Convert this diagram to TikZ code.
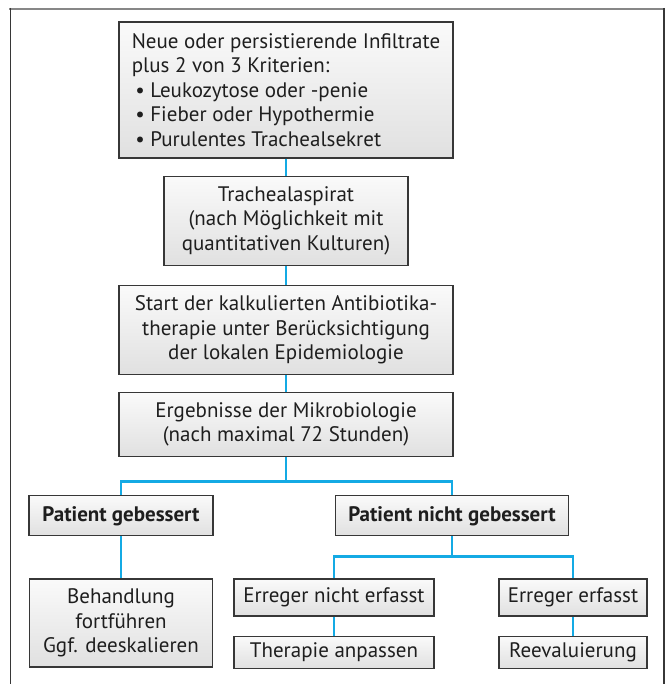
\documentclass[tikz,border=0pt]{standalone}
\usepackage{fontspec}
\setmainfont{PT Sans}
\usepackage{tikz}
\usetikzlibrary{positioning}

\definecolor{linkblue}{RGB}{20,170,228}
\definecolor{boxedge}{RGB}{55,55,55}
\definecolor{rulegray}{RGB}{135,135,135}
\definecolor{textgray}{RGB}{30,30,30}

\begin{document}
\begin{tikzpicture}[
    x=1pt, y=1pt,
    font=\fontsize{21}{24.5}\selectfont,
    box/.style={
        rectangle, draw=boxedge, line width=1.2pt, text=textgray,
        top color=gray!4, bottom color=gray!24,
        inner sep=2pt, align=center
    },
    line/.style={
        draw=linkblue, line width=2.6pt
    }
]
\useasboundingbox (0,0) rectangle (670,-684);

% frame
\draw[rulegray, line width=2.6pt] (9,-9) -- (665,-9);
\draw[boxedge, line width=1.3pt] (10.5,-8) -- (10.5,-684);
\draw[boxedge, line width=1.3pt] (664,-8) -- (664,-684);

% Top level
\node[box, align=left, minimum width=334pt, minimum height=136pt] (kriterien) at (286,-90)
    {Neue oder persistierende Infiltrate\\
     plus 2 von 3 Kriterien:\\
     \,\textbullet\ Leukozytose oder -penie\\
     \,\textbullet\ Fieber oder Hypothermie\\
     \,\textbullet\ Purulentes Trachealsekret};

% Diagnostics and therapy start
\node[box, below=17pt of kriterien, minimum width=244pt, minimum height=89pt] (aspirat)
    {Trachealaspirat\\ (nach Möglichkeit mit\\ quantitativen Kulturen)};
\node[box, below=19pt of aspirat, minimum width=334pt, minimum height=89pt] (therapie)
    {Start der kalkulierten Antibiotika-\\ therapie unter Berücksichtigung\\ der lokalen Epidemiologie};
\node[box, below=17pt of therapie, minimum width=334pt, minimum height=64pt] (mikro)
    {Ergebnisse der Mikrobiologie\\ (nach maximal 72 Stunden)};

% Second split
\node[box, below=38pt of mikro, xshift=-165pt, minimum width=184pt, minimum height=40pt] (besser)
    {\textbf{Patient gebessert}};
\node[box, below=38pt of mikro, xshift=166pt, minimum width=233pt, minimum height=40pt] (nichtbesser)
    {\textbf{Patient nicht gebessert}};

% Bottom level
\node[box, below=42pt of besser, minimum width=183pt, minimum height=88pt] (fortfuehren)
    {Behandlung\\ fortführen\\ Ggf. deeskalieren};
\node[box, below=42pt of nichtbesser, xshift=-118pt, minimum width=200pt, minimum height=37pt] (nichterfasst)
    {Erreger nicht erfasst};
\node[box, below=42pt of nichtbesser, xshift=121pt, minimum width=148pt, minimum height=37pt] (erfasst)
    {Erreger erfasst};
\node[box, below=19pt of nichterfasst, minimum width=200pt, minimum height=32pt] (anpassen)
    {Therapie anpassen};
\node[box, below=19pt of erfasst, minimum width=148pt, minimum height=32pt] (reeval)
    {Reevaluierung};

% Draw connections
\draw[line] (kriterien) -- (aspirat);
\draw[line] (aspirat) -- (therapie);
\draw[line] (therapie) -- (mikro);
\draw[line] (mikro.south) -- ++(0,-24) -| (besser.north);
\draw[line] (mikro.south) -- ++(0,-24) -| (nichtbesser.north);
\draw[line] (besser) -- (fortfuehren);
\draw[line] (nichtbesser.south) -- ++(0,-20) -| (nichterfasst.north);
\draw[line] (nichtbesser.south) -- ++(0,-20) -| (erfasst.north);
\draw[line] (nichterfasst) -- (anpassen);
\draw[line] (erfasst) -- (reeval);

\end{tikzpicture}
\end{document}
